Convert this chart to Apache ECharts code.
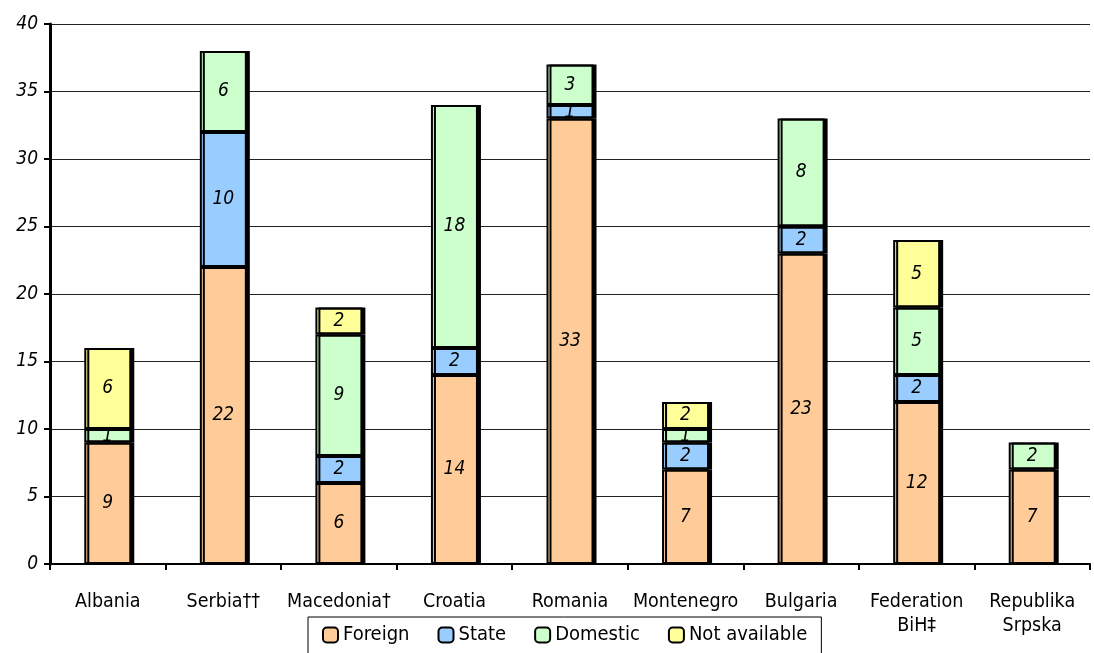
<!DOCTYPE html>
<html><head><meta charset="utf-8">
<script src="https://cdn.jsdelivr.net/npm/echarts@6/dist/echarts.min.js"></script>
<style>html,body{margin:0;padding:0;background:#fff}#c{width:1094px;height:653px}</style>
</head><body><div id="c"></div>
<script>
const categories = ['Albania','Serbia††','Macedonia†','Croatia','Romania','Montenegro','Bulgaria','Federation\nBiH‡','Republika\nSrpska'];
const foreign  = [9,22,6,14,33,7,23,12,7];
const state    = [null,10,2,2,1,2,2,2,null];
const domestic = [1,6,9,18,3,1,8,5,2];
const notAvail = [6,null,2,null,null,2,null,5,null];
const yTicks = {min:0,max:40,interval:5};

const FONT = "'DejaVu Sans Condensed','Liberation Sans Narrow',sans-serif";
function mk(name, data, color){
  return {name, type:'bar', stack:'t', data, barWidth:47,
    itemStyle:{color, borderColor:'#000', borderWidth:2, shadowColor:'#000', shadowOffsetX:3, shadowOffsetY:0, shadowBlur:0},
    label:{show:true, position:'inside', color:'#000', fontStyle:'italic', fontSize:19, fontFamily:FONT},
    emphasis:{disabled:true}};
}
const chart = echarts.init(document.getElementById('c'));
chart.setOption({
  animation:false,
  grid:{left:50,right:4,top:24,bottom:89},
  legend:{top:617,left:308,itemWidth:15,itemHeight:15,itemGap:28,
    borderColor:'#000',borderWidth:1,padding:[8,14,12,14],
    textStyle:{fontFamily:FONT,fontSize:20,color:'#000'},
    data:['Foreign','State','Domestic','Not available'].map(n=>({name:n,itemStyle:{borderColor:'#000',borderWidth:2,shadowOffsetX:0,shadowColor:'transparent'}}))},
  xAxis:{type:'category',data:categories,
    axisLine:{lineStyle:{color:'#000',width:2}},
    axisTick:{show:true,length:6,lineStyle:{color:'#000',width:2},alignWithLabel:false},
    axisLabel:{color:'#000',fontFamily:FONT,fontSize:19.5,margin:26,lineHeight:24,interval:0}},
  yAxis:{type:'value',min:yTicks.min,max:yTicks.max,interval:yTicks.interval,
    axisLine:{show:true,lineStyle:{color:'#000',width:3}},
    axisTick:{show:true,length:6,lineStyle:{color:'#000',width:2}},
    axisLabel:{color:'#000',fontFamily:FONT,fontSize:19,fontStyle:'italic',margin:12},
    splitLine:{lineStyle:{color:'#222',width:1}}},
  series:[mk('Foreign',foreign,'#ffcc99'),mk('State',state,'#99ccff'),mk('Domestic',domestic,'#ccffcc'),mk('Not available',notAvail,'#ffff99')]
});
</script></body></html>
